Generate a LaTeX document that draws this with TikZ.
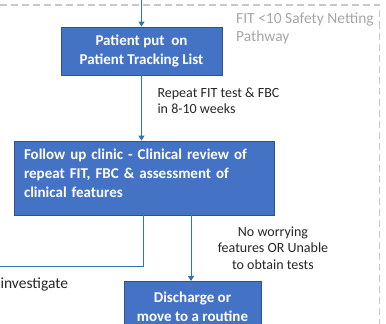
\documentclass[tikz,border=0pt]{standalone}
\usepackage{fontspec}
\setmainfont{Carlito}
\usetikzlibrary{arrows.meta}
\definecolor{boxblue}{HTML}{4472C4}
\definecolor{boxedge}{HTML}{2F528F}
\definecolor{flowblue}{HTML}{2E75B6}
\definecolor{framegray}{HTML}{C8C8C8}
\definecolor{notegray}{HTML}{A6A6A6}
\begin{document}
\begin{tikzpicture}[x=1pt,y=-1pt]
	\tikzstyle{block} = [rectangle,draw=boxedge,fill=boxblue,text=white,line width=0.8pt,font=\bfseries\fontsize{15}{19}\selectfont]
	\tikzstyle{flow} = [draw=flowblue,line width=1pt]
	\tikzstyle{note} = [text=black!85,font=\fontsize{14}{16.5}\selectfont]
	\useasboundingbox (0,0) rectangle (386,324);
	\clip (0,0) rectangle (386,324);
	% safety netting frame
	\draw[framegray,line width=1.5pt,dash pattern=on 7pt off 4pt] (0,5) -- (379.5,5) -- (379.5,330);
	\node[anchor=north west,align=left,text=notegray,font=\fontsize{15.5}{18}\selectfont,inner sep=2pt](pathway)at(234,11){FIT <10 Safety Netting\\Pathway};
	\coordinate(entry)at(141.5,-5);
	\node[block,minimum width=161,minimum height=48,align=center](tracking)at(141.5,51){Patient put\ \ on\\Patient Tracking List};
	\node[block,minimum width=260,minimum height=74,align=left,text width=240,execute at end node={\par\vspace*{9pt}}](review)at(144,178){Follow up clinic - Clinical review of\\repeat FIT, FBC \& assessment of\\clinical features};
	\node[block,minimum width=137,minimum height=50,align=center,anchor=north](discharge)at(192.5,281){Discharge or\\move to a routine};
	\node[note,anchor=west,align=left](repeat)at(154,101){Repeat FIT test \& FBC\\in 8-10 weeks};
	\node[note,align=center](noworry)at(273,248){No worrying\\features OR Unable\\to obtain tests};
	\node[note,anchor=west,font=\fontsize{15.5}{18}\selectfont](investigate)at(-3,284){investigate};
	\coordinate(bend)at(143,266);
	\coordinate(offleft)at(-5,266);
	\coordinate(split)at(191,215);
	\draw[flow,-{Triangle[length=5pt,width=6pt]}] (entry) -- (tracking.north);
	\draw[flow,-{Triangle[length=5pt,width=6pt]}] (tracking.south) -- (tracking.south |- review.north);
	\draw[flow,-{Triangle[length=5pt,width=6pt]}] (split) -- (split |- discharge.north);
	\draw[flow] (bend |- review.south) -- (bend) -- (offleft);
\end{tikzpicture}
\end{document}
